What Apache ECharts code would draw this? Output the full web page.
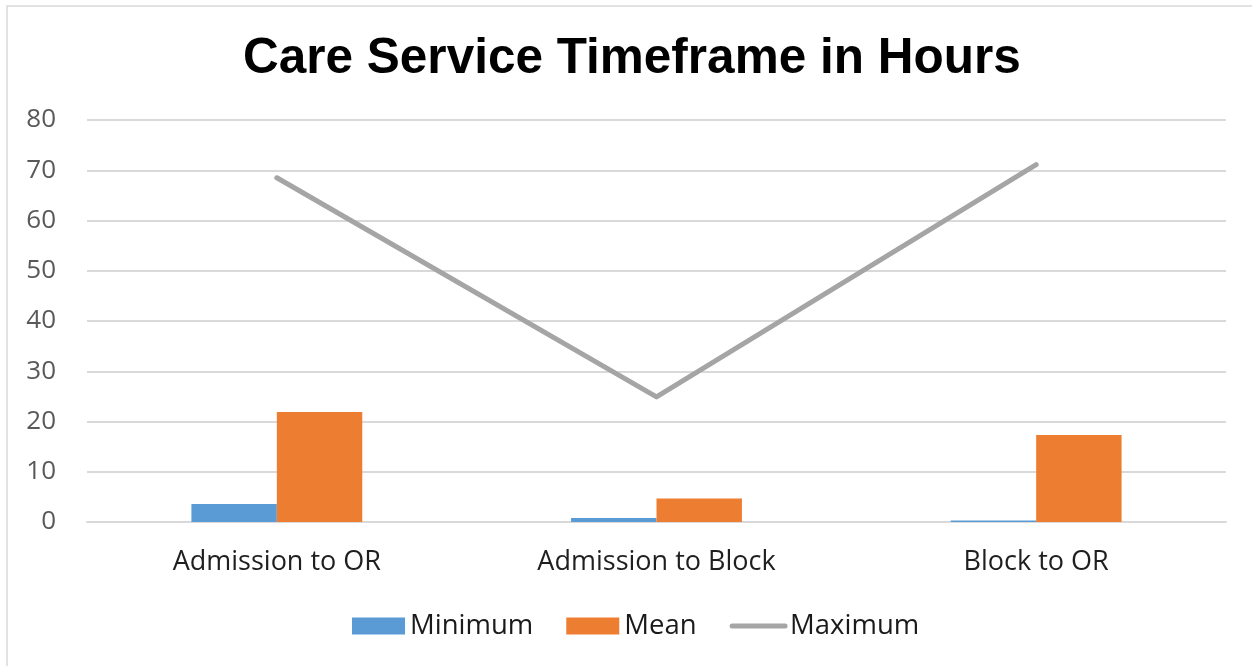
<!DOCTYPE html>
<html>
<head>
<meta charset="utf-8">
<script src="https://cdn.jsdelivr.net/npm/echarts@6/dist/echarts.min.js"></script>
<style>
html,body{margin:0;padding:0;background:#fff;}
#chart{width:1252px;height:666px;}
</style>
</head>
<body>
<div id="chart"></div>
<script>
const categories = ['Admission to OR', 'Admission to Block', 'Block to OR'];
const minimumValues = [3.6, 0.8, 0.3];
const meanValues = [21.9, 4.7, 17.3];
const maximumValues = [68.5, 24.9, 71.1];
const yTicks = [0, 10, 20, 30, 40, 50, 60, 70, 80];

const chart = echarts.init(document.getElementById('chart'), null, {renderer: 'canvas'});
const option = {
  animation: false,
  backgroundColor: '#ffffff',
  graphic: [{
    type: 'rect',
    shape: {x: 7, y: 6, width: 1260, height: 700},
    style: {fill: 'none', stroke: '#d9d9d9', lineWidth: 1.5},
    silent: true
  }],
  title: {
    text: 'Care Service Timeframe in Hours',
    left: 238,
    top: 29,
    textStyle: {fontFamily: 'Liberation Sans', fontWeight: 'bold', fontSize: 49.5, color: '#000000'}
  },
  grid: {left: 87, right: 26, top: 120, bottom: 144, containLabel: false},
  legend: {
    bottom: 21,
    left: 347,
    itemWidth: 53,
    itemHeight: 17,
    itemGap: 33,
    textStyle: {fontFamily: 'Open Sans', fontSize: 27.5, color: '#1a1a1a'},
    data: [
      {name: 'Minimum', icon: 'rect'},
      {name: 'Mean', icon: 'rect'},
      {name: 'Maximum', itemStyle: {opacity: 0}, lineStyle: {color: '#a5a5a5', width: 5, cap: 'round'}}
    ]
  },
  xAxis: {
    type: 'category',
    data: categories,
    axisTick: {show: false},
    axisLine: {lineStyle: {color: '#d9d9d9', width: 2}},
    axisLabel: {fontFamily: 'Open Sans', fontSize: 27, color: '#1f1f1f', margin: 27}
  },
  yAxis: {
    type: 'value',
    min: yTicks[0],
    max: yTicks[yTicks.length - 1],
    interval: 10,
    axisLine: {show: false},
    axisTick: {show: false},
    splitLine: {lineStyle: {color: '#d9d9d9', width: 2}},
    axisLabel: {fontFamily: 'Open Sans', fontSize: 26, color: '#595959', margin: 31}
  },
  series: [
    {
      name: 'Minimum', type: 'bar', data: minimumValues,
      barGap: '0%', barCategoryGap: '55%',
      itemStyle: {color: '#5b9bd5'}
    },
    {
      name: 'Mean', type: 'bar', data: meanValues,
      barGap: '0%', barCategoryGap: '55%',
      itemStyle: {color: '#ed7d31'}
    },
    {
      name: 'Maximum', type: 'line', data: maximumValues,
      symbol: 'none', showSymbol: false,
      lineStyle: {color: '#a5a5a5', width: 5, cap: 'round', join: 'round'},
      itemStyle: {color: '#a5a5a5'}
    }
  ]
};
chart.setOption(option);
</script>
</body>
</html>
